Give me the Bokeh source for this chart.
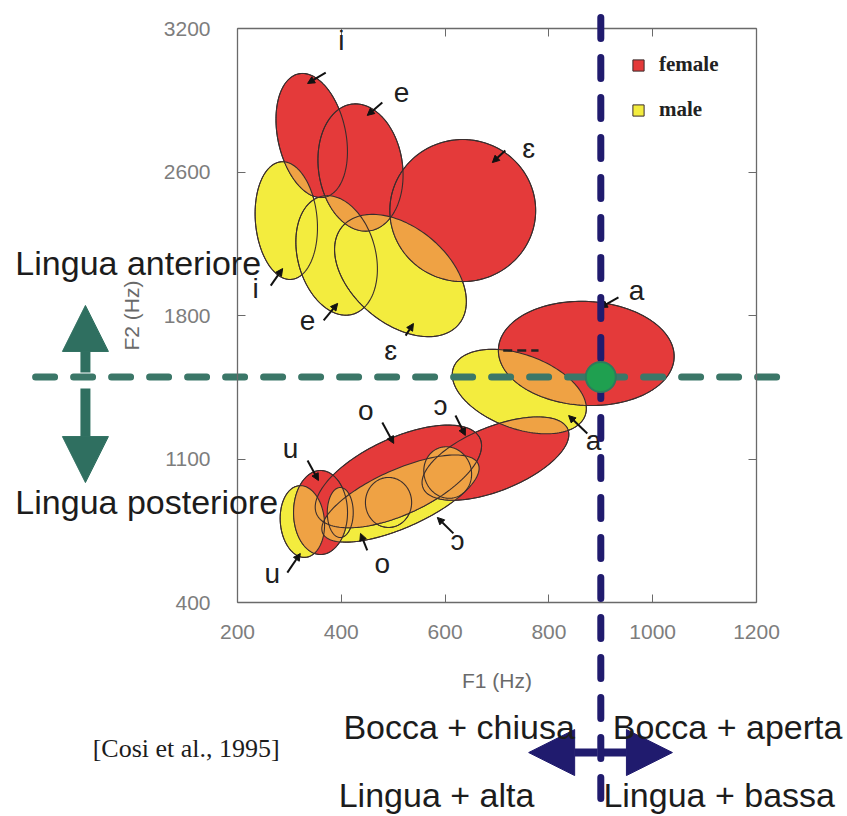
import numpy as np
from bokeh.plotting import figure
from bokeh.models import (Range1d, FixedTicker, LinearAxis, Arrow, NormalHead,
                          Label, Legend, LegendItem)
from bokeh.embed import file_html
from bokeh.resources import INLINE

# ---------------- data ----------------
# female vowel areas (F1 centre, F2 centre, F1 extent, F2 extent, tilt in deg)
f_vowels = ["i", "e", "ɛ", "a", "ɔ", "o", "u"]
f_F1 = [343, 437, 634, 872, 697, 510, 360]
f_F2 = [2678, 2522, 2312, 1615, 1102, 1015, 839]
f_dF1 = [131, 162, 281, 339, 301, 347, 104]
f_dF2 = [615, 624, 693, 507, 312, 371, 410]
f_tilt = [12, 8, 0, -3, 22, 25, 0]

# male vowel areas
m_vowels = ["i", "e", "ɛ", "a", "ɔ", "u", "o", "ɔ", "u"]
m_F1 = [294, 391, 514, 743, 514, 325, 491, 605, 398]
m_F2 = [2263, 2093, 1995, 1429, 907, 795, 888, 1034, 839]
m_dF1 = [119, 150, 293, 270, 328, 85, 89, 91, 50]
m_dF2 = [576, 595, 468, 361, 283, 351, 244, 254, 244]
m_tilt = [5, 15, -40, -20, 24, 5, 0, 20, 0]

# vowel labels: text position and pointer (start -> end)
f_lab = ["i", "e", "ɛ", "a", "o", "ɔ", "u"]
f_lab_F1 = [400, 516, 761, 969, 447, 591, 302]
f_lab_F2 = [3141, 2888, 2615, 1922, 1337, 1361, 1151]
f_ptr_F1a = [370, 479, 716, 934, 479, 620, 335]
f_ptr_F2a = [2985, 2839, 2605, 1888, 1278, 1312, 1093]
f_ptr_F1b = [335, 450, 691, 899, 501, 639, 356]
f_ptr_F2b = [2932, 2776, 2546, 1839, 1176, 1215, 995]

m_lab = ["i", "e", "ɛ", "a", "ɔ", "o", "u"]
m_lab_F1 = [235, 335, 495, 886, 624, 479, 267]
m_lab_F2 = [1932, 1776, 1629, 1190, 702, 590, 541]
m_ptr_F1a = [264, 366, 524, 874, 616, 450, 296]
m_ptr_F2a = [1946, 1776, 1702, 1224, 737, 654, 546]
m_ptr_F1b = [287, 393, 539, 838, 585, 437, 321]
m_ptr_F2b = [2029, 1859, 1761, 1312, 815, 737, 639]

ref_F1 = [900]
ref_F2 = [1500]

x_ticks = [200, 400, 600, 800, 1000, 1200]
y_ticks = [400, 1100, 1800, 2500, 3200]
y_tick_labels = ["400", "1100", "1800", "2600", "3200"]

# ---------------- layout ----------------
W, H = 845, 814
BL, BT = 237, 28          # inner chart box offsets on the canvas
FW, FH = 519, 574         # inner chart box size in px
X0, X1, Y0, Y1 = 200, 1200, 400, 3200
kx = FW / (X1 - X0)
ky = FH / (Y1 - Y0)
XR = (X0 - BL / kx, X1 + (W - BL - FW) / kx)
YR = (Y0 - (H - BT - FH) / ky, Y1 + BT / ky)

RED = "#E43A3A"
YEL = "#F3EC3E"
ORA = "#EFA244"
EDGE = "#3a2d2d"
TEAL = "#3B7768"
GREEN_ARROW = "#2F6F60"
NAVY = "#201B6E"
AXC = "#6a6a6a"


def ellipse(cx, cy, w, h, tilt, n=160):
    t = np.linspace(0, 2 * np.pi, n, endpoint=False)
    a, b = w * kx / 2, h * ky / 2
    th = np.radians(tilt)
    dx = a * np.cos(t) * np.cos(th) - b * np.sin(t) * np.sin(th)
    dy = a * np.cos(t) * np.sin(th) + b * np.sin(t) * np.cos(th)
    return np.column_stack([cx * kx + dx, cy * ky + dy])


def clip(subject, clipper):
    out = list(subject)
    m = len(clipper)
    for i in range(m):
        A, B = clipper[i], clipper[(i + 1) % m]
        inp, out = out, []
        if not inp:
            break

        def inside(P):
            return (B[0] - A[0]) * (P[1] - A[1]) - (B[1] - A[1]) * (P[0] - A[0]) >= 0

        def inter(P, Q):
            r = Q - P
            s = B - A
            den = r[0] * s[1] - r[1] * s[0]
            u = ((A[0] - P[0]) * s[1] - (A[1] - P[1]) * s[0]) / den
            return P + u * r
        S = inp[-1]
        for E in inp:
            if inside(E):
                if not inside(S):
                    out.append(inter(S, E))
                out.append(E)
            elif inside(S):
                out.append(inter(S, E))
            S = E
    return out


f_poly = [ellipse(*a) for a in zip(f_F1, f_F2, f_dF1, f_dF2, f_tilt)]
m_poly = [ellipse(*a) for a in zip(m_F1, m_F2, m_dF1, m_dF2, m_tilt)]


def to_xy(polys):
    return ([list(np.asarray(pg)[:, 0] / kx) for pg in polys],
            [list(np.asarray(pg)[:, 1] / ky) for pg in polys])


mxs, mys = to_xy(m_poly)
fxs, fys = to_xy(f_poly)
inter_polys = []
for fp in f_poly:
    for mp in m_poly:
        c = clip(list(mp), list(fp))
        if len(c) >= 3:
            inter_polys.append(np.array(c))
oxs, oys = to_xy(inter_polys)

p = figure(width=W, height=H, output_backend="svg", toolbar_location=None,
           x_range=Range1d(*XR), y_range=Range1d(*YR),
           x_axis_location=None, y_axis_location=None,
           min_border=0)
p.grid.visible = False
p.outline_line_color = None
p.background_fill_color = "white"
p.border_fill_color = "white"


def make_axis(ticks, bounds, fixed, label=None, show_labels=True):
    ax = LinearAxis(ticker=FixedTicker(ticks=ticks), bounds=bounds, fixed_location=fixed,
                    major_tick_in=8, major_tick_out=0, minor_tick_line_color=None,
                    axis_line_color=AXC, axis_line_width=1.3, major_tick_line_color=AXC,
                    major_label_text_font="Liberation Sans", major_label_text_font_size="21px",
                    major_label_text_color="#7d7d7d" if show_labels else None)
    if label:
        ax.axis_label = label
        ax.axis_label_text_font = "Liberation Sans"
        ax.axis_label_text_font_size = "21px"
        ax.axis_label_text_font_style = "normal"
        ax.axis_label_text_color = "#6a6a6a"
    return ax


xb = make_axis(x_ticks, (X0, X1), Y0, "F1 (Hz)")
xb.major_label_standoff = 22
xb.axis_label_standoff = 27
yl = make_axis(y_ticks, (Y0, Y1), X0, "F2 (Hz)")
yl.major_label_overrides = {t: s for t, s in zip(y_ticks, y_tick_labels)}
yl.major_label_standoff = 27
yl.axis_label_standoff = 18
xt = make_axis(x_ticks, (X0, X1), Y1, show_labels=False)
yr = make_axis(y_ticks, (Y0, Y1), X1, show_labels=False)
p.add_layout(xb, "below")
p.add_layout(yl, "left")
p.add_layout(xt, "above")
p.add_layout(yr, "right")

r_m = p.patches(mxs, mys, fill_color=YEL, line_color=EDGE, line_width=1)
r_f = p.patches(fxs, fys, fill_color=RED, line_color=EDGE, line_width=1)
p.patches(oxs, oys, fill_color=ORA, line_color=None)
p.patches(mxs + fxs, mys + fys, fill_color=None, line_color=EDGE, line_width=1.1)

for labs, lx, ly, ax_, ay_, bx_, by_ in (
        (f_lab, f_lab_F1, f_lab_F2, f_ptr_F1a, f_ptr_F2a, f_ptr_F1b, f_ptr_F2b),
        (m_lab, m_lab_F1, m_lab_F2, m_ptr_F1a, m_ptr_F2a, m_ptr_F1b, m_ptr_F2b)):
    for s, x, y, xa, ya, xb_, yb_ in zip(labs, lx, ly, ax_, ay_, bx_, by_):
        p.add_layout(Label(x=x, y=y, text=s, text_font="Liberation Sans",
                           text_font_size="28px", text_color="#202020",
                           text_align="center", text_baseline="middle"))
        p.add_layout(Arrow(x_start=xa, y_start=ya, x_end=xb_, y_end=yb_,
                           line_width=2, line_color="#111111",
                           end=NormalHead(size=7, fill_color="#111111",
                                          line_color="#111111")))

# small dashed mark on the a region
p.line([712, 780], [1629, 1629], line_color="#222222", line_width=2.5, line_dash="9 5")

# reference lines (extend beyond the chart box)
p.line([-189, 1256], [ref_F2[0], ref_F2[0]], line_color=TEAL, line_width=7,
       line_dash="19 19", line_cap="round")

# direction arrows
for ys, ye in ((1522, 1849), (1444, 985)):
    p.add_layout(Arrow(x_start=-93, y_start=ys, x_end=-93, y_end=ye,
                       line_color=GREEN_ARROW, line_width=10,
                       end=NormalHead(size=46, fill_color=GREEN_ARROW,
                                      line_color=GREEN_ARROW)))
for xs, xe in ((894, 761), (905, 1038)):
    p.add_layout(Arrow(x_start=xs, y_start=-332, x_end=xe, y_end=-332,
                       line_color=NAVY, line_width=8,
                       end=NormalHead(size=46, fill_color=NAVY, line_color=NAVY)))

p.line([ref_F1[0], ref_F1[0]], [3254, YR[0]], line_color=NAVY, line_width=7,
       line_dash="21 19", line_cap="round", level="overlay")
p.scatter(ref_F1, ref_F2, size=30, fill_color="#1FA050", line_color="#2E7A5C",
          line_width=2, level="overlay")

# texts outside the chart box
for s, x, y in (("Lingua anteriore", -228, 2054), ("Lingua posteriore", -228, 888),
                ("Bocca + chiusa", 404, -205), ("Bocca + aperta", 923, -205),
                ("Lingua + alta", 395, -541), ("Lingua + bassa", 905, -541)):
    p.add_layout(Label(x=x, y=y, text=s, text_font="Liberation Sans",
                       text_font_size="34px", text_color="#1c1c1c",
                       text_align="left", text_baseline="middle"))
p.add_layout(Label(x=-79, y=-312, text="[Cosi et al., 1995]", text_font="Liberation Serif",
                   text_font_size="26px", text_color="#1c1c1c",
                   text_align="left", text_baseline="middle"))

legend = Legend(items=[LegendItem(label="female", renderers=[r_f]),
                       LegendItem(label="male", renderers=[r_m])],
                location=(631, 692), orientation="vertical",
                label_text_font="Liberation Serif", label_text_font_style="bold",
                label_text_font_size="21px", label_text_color="#222222",
                glyph_width=14, glyph_height=14, label_height=22, spacing=20,
                padding=0, margin=0, border_line_color=None,
                background_fill_alpha=0, label_standoff=14)
p.add_layout(legend)

open("out.html", "w").write(file_html(p, INLINE))
